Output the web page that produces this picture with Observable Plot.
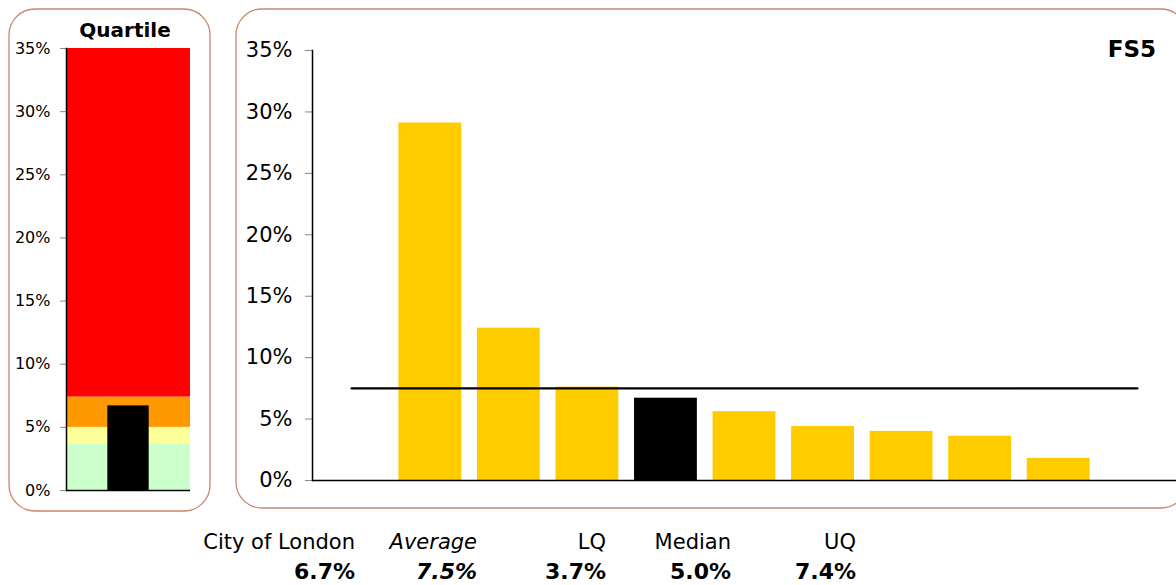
<!DOCTYPE html>
<html>
<head>
<meta charset="utf-8">
<script src="https://cdn.jsdelivr.net/npm/d3@7"></script>
<script src="https://cdn.jsdelivr.net/npm/@observablehq/plot@0.6"></script>
<style>
  body { margin: 0; background: #fff; }
  #page { position: relative; width: 1176px; height: 585px; overflow: hidden; background: #fff;
          font-family: "DejaVu Sans", Verdana, sans-serif; }
  #page > svg { position: absolute; }
</style>
</head>
<body>
<div id="page"></div>
<script>
// Share of spend for each authority in the comparison group (percent)
const peerNames = ["start", "Peer 1", "Peer 2", "Peer 3", "City of London", "Peer 5", "Peer 6", "Peer 7", "Peer 8", "Peer 9", "end"];
const peerValues = [null, 29.1, 12.4, 7.6, 6.7, 5.6, 4.4, 4.0, 3.6, 1.8, null];

// Summary figures shown beneath the chart
const summaryLabels = ["City of London", "Average", "LQ", "Median", "UQ"];
const summaryValues = [6.7, 7.5, 3.7, 5.0, 7.4];

// Axis ticks
const yTicks = [0, 5, 10, 15, 20, 25, 30, 35];
const yMax = 35;

// Quartile band colours, lowest to highest
const bandColors = ["#ccffcc", "#ffff99", "#ff9900", "#ff0000"];

const focus = "City of London";
const summary = Object.fromEntries(summaryLabels.map((k, i) => [k, summaryValues[i]]));
const peers = peerNames.map((name, i) => ({name, value: peerValues[i]}));
const bandEdges = [0, summary.LQ, summary.Median, summary.UQ, yMax];
const bands = bandColors.map((color, i) => ({lo: bandEdges[i], hi: bandEdges[i + 1], color}));

const page = document.getElementById("page");
const pct = d => d + "%";
const font = "DejaVu Sans, Verdana, sans-serif";

// Quartile gauge
const gauge = Plot.plot({
  width: 210, height: 510,
  marginLeft: 66, marginRight: 20, marginTop: 48, marginBottom: 20,
  x: {domain: [focus], padding: 0.5, round: false, axis: null},
  y: {domain: [0, yMax], axis: null},
  color: {type: "identity"},
  style: {fontFamily: font, fontSize: "16px", color: "#000", background: "transparent", overflow: "visible"},
  marks: [
    Plot.rect(bands, {y1: "lo", y2: "hi", fill: "color"}),
    Plot.barY([summary[focus]], {x: () => focus, y: d => d, fill: "#000"}),
    Plot.axisY({ticks: yTicks, tickFormat: pct, tickSize: 6, tickPadding: 10, stroke: "#888", label: null}),
    Plot.ruleY([0], {stroke: "#000", strokeWidth: 1.5}),
    Plot.frame({anchor: "left", stroke: "#000", strokeWidth: 1.5})
  ]
});
gauge.style.left = "0px";
gauge.style.top = "0px";
page.appendChild(gauge);

// Ranked bar chart with the group average
const ends = [peerNames[0], peerNames[peerNames.length - 1]];
const bars = Plot.plot({
  width: 940, height: 510,
  marginLeft: 76, marginRight: 0, marginTop: 50, marginBottom: 30,
  x: {domain: peerNames, paddingInner: 0.2, paddingOuter: 0.1, round: false, axis: null},
  y: {domain: [0, yMax], axis: null},
  color: {type: "identity"},
  style: {fontFamily: font, fontSize: "21px", color: "#000", background: "transparent", overflow: "visible"},
  marks: [
    Plot.barY(peers.filter(d => d.value != null), {x: "name", y: "value", fill: d => d.name === focus ? "#000" : "#ffcc00"}),
    Plot.lineY(ends.map(name => ({name, value: summary.Average})), {x: "name", y: "value", stroke: "#000", strokeWidth: 2.4}),
    Plot.axisY({ticks: yTicks, tickFormat: pct, tickSize: 7, tickPadding: 13, stroke: "#888", label: null}),
    Plot.ruleY([0], {stroke: "#000", strokeWidth: 1.5}),
    Plot.frame({anchor: "left", stroke: "#000", strokeWidth: 1.5})
  ]
});
bars.style.left = "236px";
bars.style.top = "0px";
page.appendChild(bars);

// Panel outlines, titles and the summary row
const overlay = d3.create("svg")
  .attr("width", 1176).attr("height", 585)
  .style("left", "0px").style("top", "0px")
  .style("font-family", font);

overlay.append("rect")
  .attr("x", 9).attr("y", 9).attr("width", 201).attr("height", 502)
  .attr("rx", 26).attr("fill", "none").attr("stroke", "#c8866a").attr("stroke-width", 1.3);
overlay.append("rect")
  .attr("x", 236).attr("y", 9).attr("width", 951).attr("height", 499)
  .attr("rx", 26).attr("fill", "none").attr("stroke", "#c8866a").attr("stroke-width", 1.3);

overlay.append("text").text("Quartile")
  .attr("x", 125).attr("y", 37).attr("text-anchor", "middle")
  .attr("font-size", 20).attr("font-weight", "bold");
overlay.append("text").text("FS5")
  .attr("x", 1156).attr("y", 57).attr("text-anchor", "end")
  .attr("font-size", 23).attr("font-weight", "bold");

const labelRight = [355, 477, 606, 731, 856];
const row = overlay.append("g").attr("text-anchor", "end");
summaryLabels.forEach((label, i) => {
  const italic = label === "Average" ? "italic" : "normal";
  row.append("text").text(label)
    .attr("x", labelRight[i]).attr("y", 549).attr("font-style", italic)
    .attr("font-size", 21);
  row.append("text").text(summaryValues[i].toFixed(1) + "%")
    .attr("x", labelRight[i]).attr("y", 579).attr("font-weight", "bold").attr("font-style", italic)
    .attr("font-size", 22);
});
page.appendChild(overlay.node());
</script>
</body>
</html>
